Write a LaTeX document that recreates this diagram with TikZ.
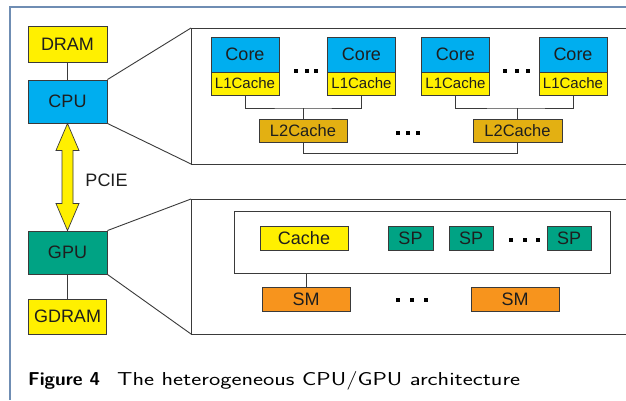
\documentclass[tikz,border=0pt]{standalone}
\usepackage{fontspec}
\usepackage{graphicx}
\setmainfont{Liberation Sans}
\usetikzlibrary{calc}
\definecolor{cyanc}{HTML}{00AEEF}
\definecolor{yel}{HTML}{FFF000}
\definecolor{gold}{HTML}{E3B012}
\definecolor{teal}{HTML}{00A384}
\definecolor{orng}{HTML}{F7941D}
\definecolor{frm}{HTML}{6F8DB3}
\definecolor{ln}{HTML}{3A3A3A}
\definecolor{txt}{HTML}{1E1E1E}
\begin{document}
\begin{tikzpicture}[x=1pt,y=-1pt,
  box/.style={draw=ln,line width=0.9pt,rectangle,inner sep=0pt,text=txt,font=\fontsize{18}{20}\selectfont},
  small/.style={font=\fontsize{15}{17}\selectfont},
  conn/.style={draw=ln,line width=0.9pt}]
\useasboundingbox (0,0) rectangle (626,400);
\fill[white] (0,0) rectangle (626,400);
% outer frame
\draw[frm,line width=1.4pt] (10,400) -- (10,7) -- (626,7);
% left column
\node[box,fill=yel,minimum width=79,minimum height=36] (dram) at (67.5,44) {DRAM};
\node[box,fill=cyanc,minimum width=79,minimum height=43] (cpu) at (67.5,101.5) {CPU};
\node[box,fill=teal,minimum width=79,minimum height=43] (gpu) at (67.5,252.5) {GPU};
\node[box,fill=yel,minimum width=78,minimum height=35] (gdram) at (67.5,316.5) {GDRAM};
\draw[conn] (dram) -- (cpu);
\draw[conn] (gpu) -- (gdram);
% PCIE double arrow
\draw[draw=ln,line width=0.7pt,fill=yel]
  (cpu.south) -- ++(11.5,27) -- ++(-6,0) -- ($(gpu.north)+(5.5,-27)$) -- ++(6,0)
  -- (gpu.north) -- ++(-11.5,-27) -- ++(6,0) -- ($(cpu.south)+(-5.5,27)$) -- ++(-6,0) -- cycle;
\node[text=txt,font=\fontsize{18}{20}\selectfont] (pcie) at (106.5,180.5) {PCIE};
% top detail box
\coordinate (t1) at (191,28);
\coordinate (t2) at (191,164);
\draw[conn] (626,28) -- (t1) -- (t2) -- (626,164);
\draw[conn] (cpu.north east) -- (t1);
\draw[conn] (cpu.south east) -- (t2);
% cores
\foreach \n/\x in {a/245,b/361.5,c/455.5,d/573}{
  \node[box,fill=cyanc,minimum width=68,minimum height=35] (core\n) at (\x,54.5) {Core};
  \node[box,small,fill=yel,minimum width=68,minimum height=23] (l1\n) at (\x,83.5) {L1Cache};
}
\node[box,font=\fontsize{16.5}{18}\selectfont,fill=gold,minimum width=88,minimum height=23] (l2a) at (303,130.5) {L2Cache};
\node[box,font=\fontsize{16.5}{18}\selectfont,fill=gold,minimum width=89,minimum height=23] (l2b) at (517.5,130.5) {L2Cache};
\coordinate (j1) at (303,108);
\coordinate (j2) at (517.5,108);
\coordinate (j3) at (303,153);
\draw[conn] (l1a.south) |- (j1) -| (l1b.south);
\draw[conn] (j1) -- (l2a.north);
\draw[conn] (l1c.south) |- (j2) -| (l1d.south);
\draw[conn] (j2) -- (l2b.north);
\draw[conn] (l2a.south) -- (j3) -| (l2b.south);
% bottom detail box
\coordinate (b1) at (191,199);
\coordinate (b2) at (191,334);
\draw[conn] (626,199) -- (b1) -- (b2) -- (626,334);
\draw[conn] (gpu.north east) -- (b1);
\draw[conn] (gpu.south east) -- (b2);
\node[box,minimum width=376,minimum height=62] (inner) at (422,242) {};
\node[box,fill=yel,minimum width=88,minimum height=24] (cache) at (304,238) {Cache};
\node[box,fill=teal,minimum width=45,minimum height=24] (sp1) at (410.5,238) {SP};
\node[box,fill=teal,minimum width=44,minimum height=24] (sp2) at (471,238) {SP};
\node[box,fill=teal,minimum width=44,minimum height=24] (sp3) at (569,238) {SP};
\node[box,fill=orng,minimum width=88,minimum height=24] (sm1) at (306,299) {SM};
\node[box,fill=orng,minimum width=88,minimum height=24] (sm2) at (515,299) {SM};
\draw[conn] (sm1.north) -- (sm1.north |- inner.south);
% ellipsis dots
\foreach \x/\y in {296/71,306.5/71,316/71,505/71,516.5/71,528/71,398/133,408/133,418/133,510.5/240,525/240,537.5/240,397.5/300,412/300,425.5/300}{
  \fill[black] (\x-2,\y-2) rectangle (\x+2,\y+2);
}
% caption
\node[anchor=base west,inner sep=0pt,text=black,font=\sffamily\fontsize{18.7}{20}\selectfont] (cap) at (28,385.5)
  {\resizebox{72pt}{\height}{\textbf{Figure 4}}\hspace{17pt}\resizebox{403pt}{\height}{The heterogeneous CPU/GPU architecture}};
\end{tikzpicture}
\end{document}
